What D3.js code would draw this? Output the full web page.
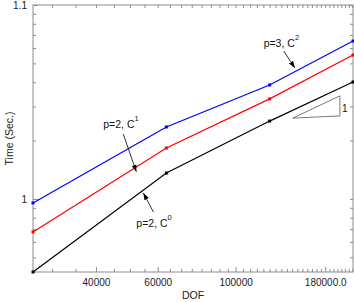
<!DOCTYPE html>
<html lang="en">
<head>
<meta charset="UTF-8">
<title>Time vs DOF</title>
<script src="https://d3js.org/d3.v7.min.js"></script>
<style>
  body { margin: 0; background: #fff; }
  svg text { font-family: "Liberation Sans", Arial, sans-serif; }
</style>
</head>
<body>
<script>
// degrees of freedom (x) for each refinement level
const dof = [26470, 63500, 125000, 216000];
// time per series (log axis; "1" tick = 10, "1.1" tick = 100)
const timeP3C2 = [9.54, 23.5, 38.7, 65.2];
const timeMid = [6.76, 18.3, 32.8, 55.2];
const timeP2C0 = [4.2, 13.6, 25.2, 40.1];

const xTickValues = [40000, 60000, 100000, 180000];
const xTickLabels = ["40000", "60000", "100000", "180000.0"];
const yTickValues = [10, 100];
const yTickLabels = ["1", "1.1"];

const series = [
    { name: "p=3, C2", color: "#0000ff", values: timeP3C2 },
    { name: "mid", color: "#ff0000", values: timeMid },
    { name: "p=2, C0", color: "#000000", values: timeP2C0 }
];

// annotations in data coordinates
const notes = [
    { base: "p=3, C", sup: "2", tx: 120200, ty: 60.7, from: [137100, 57.9], to: [147500, 47.3] },
    { base: "p=2, C", sup: "1", tx: 41970, ty: 23.2, from: [47860, 21.6], to: [52140, 13.8] },
    { base: "p=2, C", sup: "0", tx: 52140, ty: 7.18, from: [58300, 8.57], to: [54600, 10.74] }
];
const slopeTri = [[145500, 26.1], [198200, 26.8], [198200, 34.0]];
const slopeLabel = { x: 201000, y: 28.1, text: "1" };

const W = 354, H = 302;
const margin = { top: 5, right: 1, bottom: 30, left: 33 };
const width = W - margin.left - margin.right;
const height = H - margin.top - margin.bottom;

const svg = d3.select("body").append("svg")
    .attr("width", W)
    .attr("height", H);

const defs = svg.append("defs");
defs.append("marker")
    .attr("id", "arr")
    .attr("viewBox", "0 0 10 10")
    .attr("refX", 10).attr("refY", 5)
    .attr("markerWidth", 7).attr("markerHeight", 7)
    .attr("markerUnits", "userSpaceOnUse")
    .attr("orient", "auto")
    .append("path")
    .attr("d", "M0,1.5L10,5L0,8.5Z")
    .attr("fill", "#000");

const g = svg.append("g")
    .attr("transform", `translate(${margin.left},${margin.top})`);

const x = d3.scaleLog()
    .domain(d3.extent(dof))
    .range([0, width]);

const y = d3.scaleLog()
    .domain([4.2, 100])
    .range([height, 0]);

// minor ticks
const xMinor = d3.range(30000, 216000, 5000).filter(v => !xTickValues.includes(v));
const yMinor = [5, 6, 7, 8, 9, 20, 30, 40, 50, 60, 70, 80, 90];

const axisColor = "#8c8c8c";

function styleAxis(sel) {
    sel.select(".domain").remove();
    sel.selectAll(".tick line").attr("stroke", axisColor);
    sel.selectAll(".tick text").attr("fill", "#222").style("font-size", "10px");
}

// bottom
g.append("g").attr("transform", `translate(0,${height})`)
    .call(d3.axisBottom(x).tickValues(xMinor).tickSize(-3).tickFormat(""))
    .call(styleAxis);
g.append("g").attr("transform", `translate(0,${height})`)
    .call(d3.axisBottom(x).tickValues(xTickValues).tickSize(-5).tickPadding(7)
        .tickFormat((d, i) => xTickLabels[i]))
    .call(styleAxis);
// top
g.append("g")
    .call(d3.axisTop(x).tickValues(xMinor.concat(xTickValues)).tickSize(-3).tickFormat(""))
    .call(styleAxis);
// left
g.append("g")
    .call(d3.axisLeft(y).tickValues(yMinor).tickSize(-3).tickFormat(""))
    .call(styleAxis);
g.append("g")
    .call(d3.axisLeft(y).tickValues(yTickValues).tickSize(-5).tickPadding(6)
        .tickFormat((d, i) => yTickLabels[i]))
    .call(styleAxis);
// right
g.append("g").attr("transform", `translate(${width},0)`)
    .call(d3.axisRight(y).tickValues(yMinor.concat(yTickValues)).tickSize(-3).tickFormat(""))
    .call(styleAxis);

// frame
g.append("rect")
    .attr("width", width).attr("height", height)
    .attr("fill", "none").attr("stroke", axisColor).attr("stroke-width", 1);

// lines
const line = d3.line()
    .x((d, i) => x(dof[i]))
    .y(d => y(d));

series.forEach(s => {
    g.append("path")
        .datum(s.values)
        .attr("fill", "none")
        .attr("stroke", s.color)
        .attr("stroke-width", 1.2)
        .attr("d", line);
    g.selectAll(null)
        .data(s.values)
        .enter().append("rect")
        .attr("x", (d, i) => x(dof[i]) - 1.5)
        .attr("y", d => y(d) - 1.5)
        .attr("width", 3).attr("height", 3)
        .attr("fill", s.color);
});

// annotations
notes.forEach(n => {
    const t = g.append("text")
        .attr("x", x(n.tx)).attr("y", y(n.ty))
        .attr("fill", "#111")
        .style("font-size", "10.5px");
    t.append("tspan").text(n.base);
    t.append("tspan").attr("dy", -7).style("font-size", "7.5px").text(n.sup);
    g.append("line")
        .attr("x1", x(n.from[0])).attr("y1", y(n.from[1]))
        .attr("x2", x(n.to[0])).attr("y2", y(n.to[1]))
        .attr("stroke", "#000").attr("stroke-width", 0.8)
        .attr("marker-end", "url(#arr)");
});

// slope triangle
g.append("path")
    .attr("d", d3.line().x(d => x(d[0])).y(d => y(d[1])).curve(d3.curveLinearClosed)(slopeTri))
    .attr("fill", "none").attr("stroke", "#555").attr("stroke-width", 0.8);
g.append("text")
    .attr("x", x(slopeLabel.x)).attr("y", y(slopeLabel.y))
    .attr("fill", "#111").style("font-size", "10px")
    .text(slopeLabel.text);

// axis titles
svg.append("text")
    .attr("x", margin.left + width / 2 + 0).attr("y", 299)
    .attr("text-anchor", "middle")
    .attr("fill", "#222").style("font-size", "10.5px")
    .text("DOF");
svg.append("text")
    .attr("transform", `translate(13,${margin.top + height / 2}) rotate(-90)`)
    .attr("text-anchor", "middle")
    .attr("fill", "#222").style("font-size", "10.5px")
    .text("Time (Sec.)");
</script>
</body>
</html>
